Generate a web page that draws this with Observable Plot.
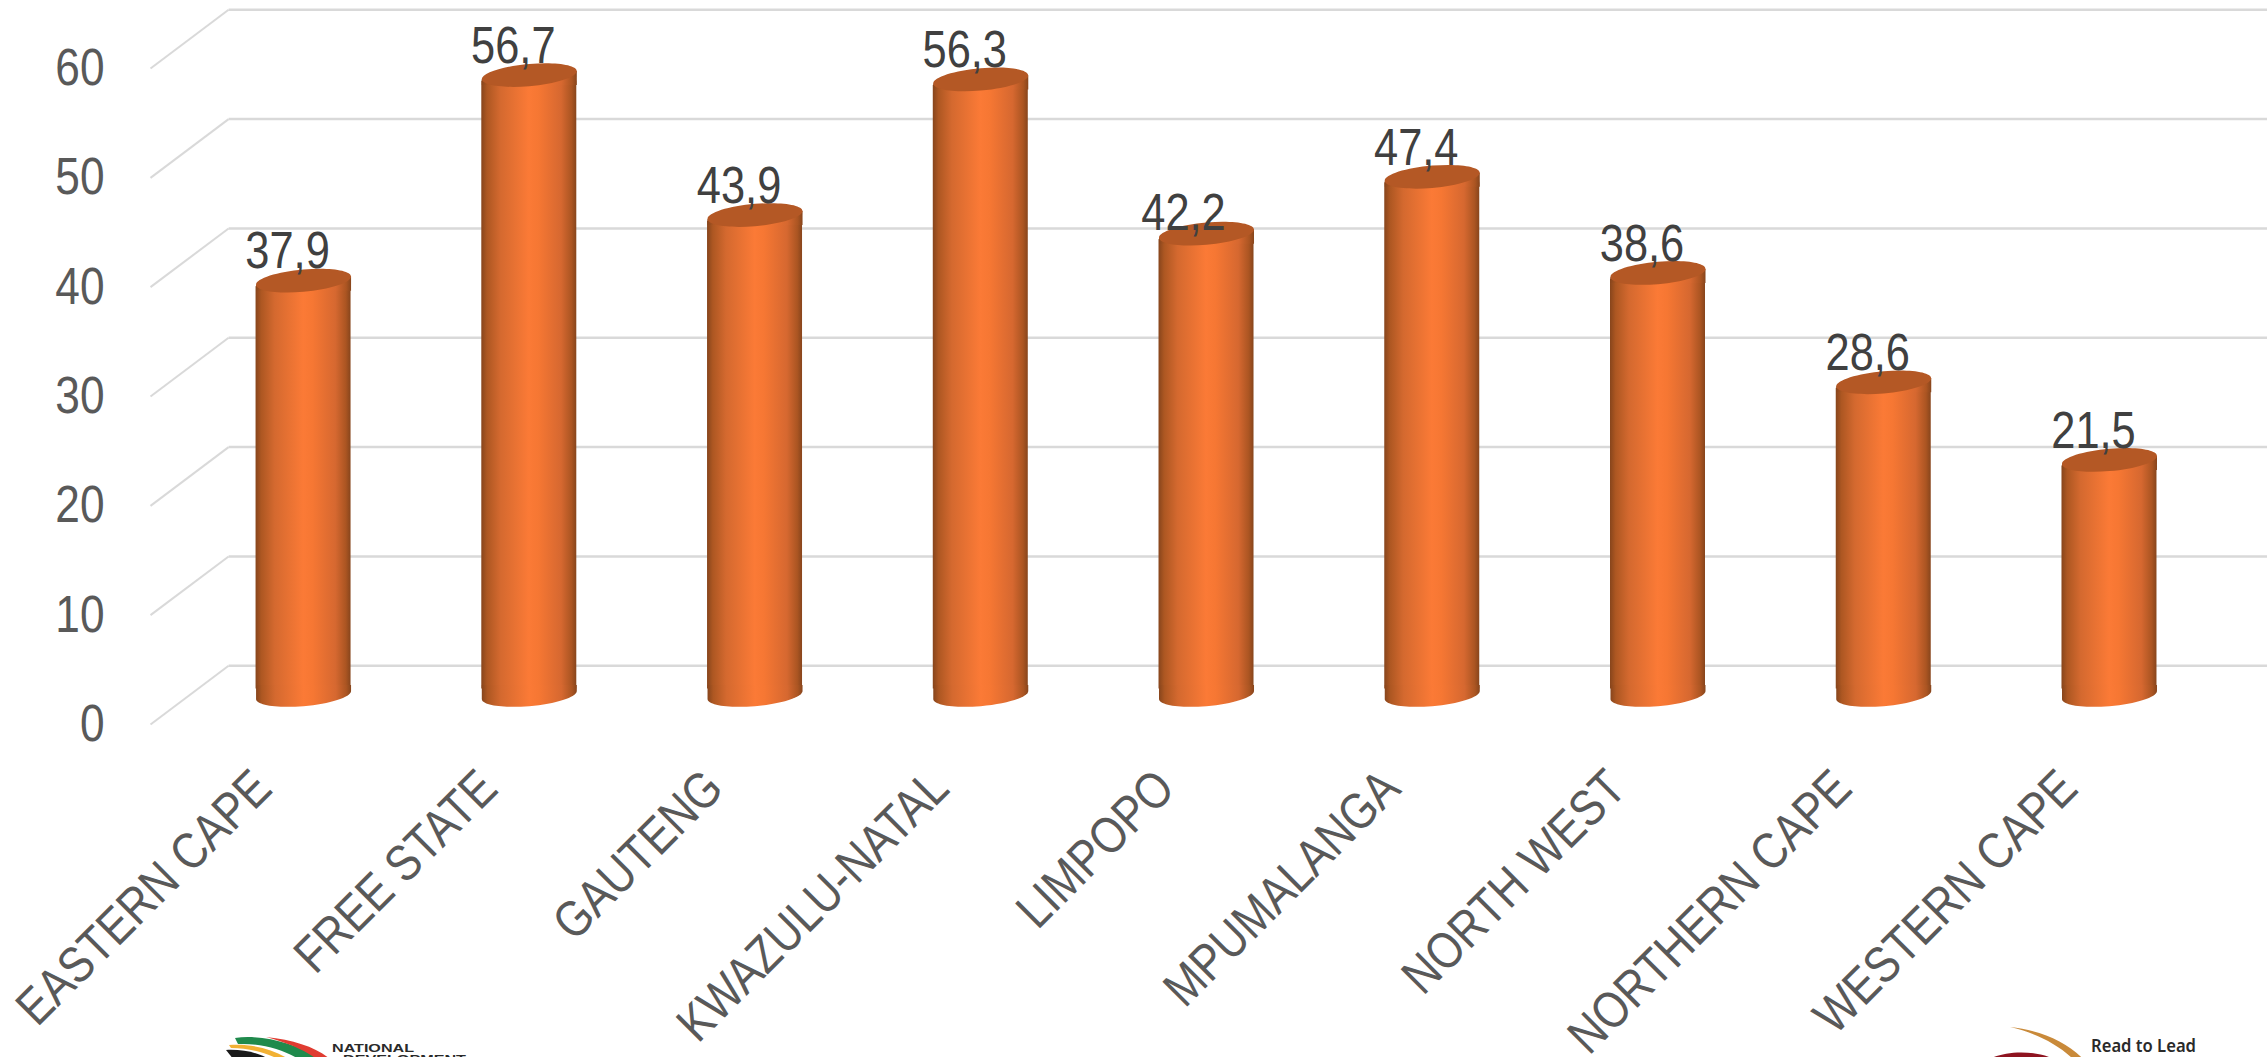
<!DOCTYPE html>
<html>
<head>
<meta charset="utf-8">
<script src="https://cdn.jsdelivr.net/npm/d3@7"></script>
<script src="https://cdn.jsdelivr.net/npm/@observablehq/plot@0.6"></script>
<style>
  html, body { margin: 0; padding: 0; background: #fff; width: 2267px; height: 1057px; overflow: hidden; }
  #chart { position: relative; width: 2267px; height: 1057px; overflow: hidden; }
  #chart svg { position: absolute; left: 0; top: 0; display: block; }
</style>
</head>
<body>
<div id="chart"></div>
<script>
// Provinces and their values
const provinces = ["EASTERN CAPE", "FREE STATE", "GAUTENG", "KWAZULU-NATAL", "LIMPOPO", "MPUMALANGA", "NORTH WEST", "NORTHERN CAPE", "WESTERN CAPE"];
const values = [37.9, 56.7, 43.9, 56.3, 42.2, 47.4, 38.6, 28.6, 21.5];
const yTicks = [0, 10, 20, 30, 40, 50, 60];

const rows = provinces.map((name, i) => ({name, i, value: values[i]}));

// Pseudo-3D layout: the floor recedes up and to the right of the value axis
const wallDepth = 5.37;       // back wall offset, in value units
const xWallFront = -0.678;    // front end of each diagonal, in category units
const xWallBack = -0.332;     // where each diagonal meets the back wall
const xEnd = 8.7;
const barHalf = 0.2104;       // half a cylinder's width, in category units
const barLift = -29.5;        // cylinders stand midway between front and back planes
const capRadius = 47.5;
const capOverlap = 6;         // the body stops short of each cap by this many pixels

// Sheared-ellipse helpers for the cylinder ends
const squash = 0.235, shear = 0.085, kappa = 0.5523;
const shearer = a => (x, y) => [a * x, a * squash * y - shear * a * x];
const radius = size => Math.sqrt(size / Math.PI);

// Whole ellipse: the lid of a cylinder
const lidSymbol = {
  draw(ctx, size) {
    const T = shearer(radius(size)), c = kappa;
    ctx.moveTo(...T(1, 0));
    ctx.bezierCurveTo(...T(1, c), ...T(c, 1), ...T(0, 1));
    ctx.bezierCurveTo(...T(-c, 1), ...T(-1, c), ...T(-1, 0));
    ctx.bezierCurveTo(...T(-1, -c), ...T(-c, -1), ...T(0, -1));
    ctx.bezierCurveTo(...T(c, -1), ...T(1, -c), ...T(1, 0));
    ctx.closePath();
  }
};
// Curved base, squared off upward so it joins the body
const baseSymbol = {
  draw(ctx, size) {
    const a = radius(size), T = shearer(a), c = kappa, up = capOverlap + shear * a;
    ctx.moveTo(...T(1, 0));
    ctx.bezierCurveTo(...T(1, c), ...T(c, 1), ...T(0, 1));
    ctx.bezierCurveTo(...T(-c, 1), ...T(-1, c), ...T(-1, 0));
    ctx.lineTo(-a, -up);
    ctx.lineTo(a, -up);
    ctx.closePath();
  }
};
// Sits under the lid and fills the wedge between lid and body
const shoulderSymbol = {
  draw(ctx, size) {
    const a = radius(size), T = shearer(a), down = capOverlap + shear * a;
    ctx.moveTo(...T(-1, 0));
    ctx.lineTo(...T(1, 0));
    ctx.lineTo(a, down);
    ctx.lineTo(-a, down);
    ctx.closePath();
  }
};

// Horizontal shading across the cylinder body
const shading = () => {
  const defs = d3.create("svg:defs");
  const g = defs.append("linearGradient").attr("id", "cyl").attr("x1", 0).attr("x2", 1).attr("y1", 0).attr("y2", 0);
  [[0, "#87451c"], [0.06, "#ad5722"], [0.2, "#d4692f"], [0.5, "#fb7a36"], [0.6, "#f67733"], [0.84, "#d66830"], [0.95, "#ab5522"], [1, "#87451c"]]
    .forEach(([o, c]) => g.append("stop").attr("offset", o).attr("stop-color", c));
  return defs.node();
};

// The Limpopo label sits closer to its cylinder than the others
const labelDx = d => d.name === "LIMPOPO" ? -23 : -16;
const labelDy = d => d.name === "LIMPOPO" ? -49 : -58;

const chart = Plot.plot({
  width: 2267,
  height: 1057,
  marginLeft: 150,
  marginRight: 0,
  marginTop: 68,
  marginBottom: 333,
  style: {background: "transparent", fontFamily: "'Liberation Sans', Arial, sans-serif"},
  x: {type: "linear", domain: [xWallFront, xEnd], axis: null},
  y: {domain: [0, 60], axis: null},
  marks: [
    shading,
    // Floor and wall gridlines
    Plot.link(yTicks, {x1: xWallFront, x2: xWallBack, y1: d => d, y2: d => d + wallDepth, stroke: "#d9d9d9", strokeWidth: 2}),
    Plot.link(yTicks, {x1: xWallBack, x2: xEnd, y1: d => d + wallDepth, y2: d => d + wallDepth, stroke: "#d9d9d9", strokeWidth: 2.5}),
    // Cylinders
    Plot.rectY(rows, {x1: d => d.i - barHalf, x2: d => d.i + barHalf, y1: () => 0, y2: "value", fill: "url(#cyl)", dy: barLift, insetTop: capOverlap, insetBottom: capOverlap}),
    Plot.dot(rows, {x: "i", y: () => 0, r: capRadius, symbol: baseSymbol, fill: "url(#cyl)", stroke: "none", dy: barLift}),
    Plot.dot(rows, {x: "i", y: "value", r: capRadius, symbol: shoulderSymbol, fill: "url(#cyl)", stroke: "none", dy: barLift}),
    Plot.dot(rows, {x: "i", y: "value", r: capRadius, symbol: lidSymbol, fill: "#b45825", stroke: "none", dy: barLift}),
    // Value labels
    ...rows.map(d => Plot.text([d], {x: "i", y: "value", text: r => String(r.value).replace(".", ","), dx: labelDx(d), dy: labelDy(d), fontSize: 51, fill: "#404040", lineAnchor: "middle"})),
    // Axes
    Plot.axisY({ticks: yTicks, tickSize: 0, tickPadding: 46, label: null, fontSize: 52, color: "#595959", tickFormat: d => d}),
    Plot.axisX({ticks: d3.range(provinces.length), tickSize: 0, tickPadding: 0, tickFormat: i => provinces[i], tickRotate: -45, textAnchor: "end", lineAnchor: "middle", fontSize: 51, color: "#595959", label: null, dx: -41, dy: 55})
  ]
});

document.getElementById("chart").appendChild(chart);

// All chart text is set in a condensed width
chart.querySelectorAll("text").forEach(t => {
  t.setAttribute("textLength", (t.getComputedTextLength() * 0.85).toFixed(1));
  t.setAttribute("lengthAdjust", "spacingAndGlyphs");
});

// Footer logos, cut off by the page edge
const logos = d3.select("#chart").append("svg").attr("width", 2267).attr("height", 1057).attr("viewBox", "0 0 2267 1057");
const logoText = (x, y, size, length, text, family = "'Liberation Sans', Arial, sans-serif", weight = 700) =>
  logos.append("text").attr("x", x).attr("y", y).attr("font-family", family).attr("font-weight", weight).attr("font-size", size)
    .attr("textLength", length).attr("lengthAdjust", "spacingAndGlyphs").attr("fill", "#2a2a2a").text(text);
logos.append("path").attr("d", "M235 1038 C262 1034 300 1044 320 1060 L300 1060 C285 1050 262 1043 238 1044 Z").attr("fill", "#1f8a4c");
logos.append("path").attr("d", "M266 1037 C295 1040 318 1048 331 1060 L318 1060 C305 1050 288 1043 266 1037 Z").attr("fill", "#e03c31");
logos.append("path").attr("d", "M229 1045 C252 1043 275 1050 290 1060 L280 1060 C265 1052 248 1048 231 1048 Z").attr("fill", "#f2b134");
logos.append("path").attr("d", "M226 1050 C245 1049 262 1054 270 1060 L234 1060 Z").attr("fill", "#1a1a1a");
logoText(332, 1052, 11.5, 82, "NATIONAL");
logoText(343, 1063, 11.5, 123, "DEVELOPMENT");
logos.append("path").attr("d", "M2010 1027 C2040 1030 2068 1042 2084 1060 L2074 1060 C2058 1044 2036 1033 2010 1027 Z").attr("fill", "#c98a3a");
logos.append("path").attr("d", "M1988 1060 C2000 1052 2032 1048 2056 1060 Z").attr("fill", "#8e1420");
logoText(2091, 1052, 17, 105, "Read to Lead", "'Noto Sans', sans-serif", 600);
</script>
</body>
</html>
